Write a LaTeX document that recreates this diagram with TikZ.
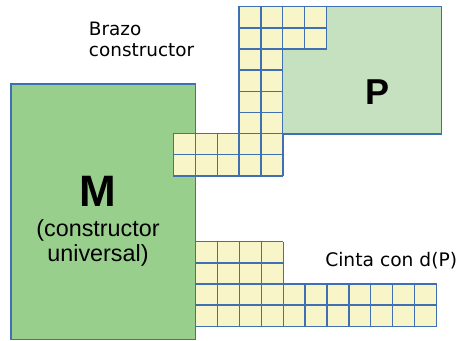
\documentclass[tikz,border=0pt]{standalone}
\usepackage{fontspec}
\setmainfont{DejaVu Sans}
\newfontfamily\arialfont{Liberation Sans}
\usepackage{tikz}
\definecolor{Edge}{HTML}{4070B4}
\definecolor{MachineGreen}{HTML}{99CF8D}
\definecolor{PartGreen}{HTML}{C5E1C0}
\definecolor{Cell}{HTML}{F8F6C9}
\def\cellw{21.9}
\def\cellh{21.15}
\tikzset{
  gridline/.style={draw=Edge,line width=1pt},
  block/.style={draw=Edge,line width=1pt}
}
% block of cells: left, top, columns, rows
\newcommand{\cellblock}[4]{%
  \fill[Cell] (#1,#2) rectangle ++({#3*\cellw},{#4*\cellh});
  \foreach \i in {0,...,#3}{
    \draw[gridline] ({#1+\i*\cellw},#2) -- ++(0,{#4*\cellh});
  }
  \foreach \j in {0,...,#4}{
    \draw[gridline] (#1,{#2+\j*\cellh}) -- ++({#3*\cellw},0);
  }
}

\begin{document}
\begin{tikzpicture}[x=0.75pt,y=-0.75pt]
      \useasboundingbox (0,0) rectangle (457,341);
      % built part and the machine
      \fill[PartGreen] (239,6.7) rectangle (441.7,134);
      \draw[block] (239,6.7) rectangle (441.7,134);
      \fill[MachineGreen] (11,84) rectangle (195.6,339.5);
      \draw[block] (11,84) rectangle (195.6,339.5);

      % arm: head, column, short reach
      \cellblock{239}{6.7}{4}{2}
      \cellblock{239}{49}{2}{4}
      \cellblock{173.4}{133.6}{5}{2}
      % tape
      \cellblock{195.6}{241.7}{4}{2}
      \cellblock{195.6}{284.0}{11}{2}

      \node[font=\arialfont\bfseries\fontsize{33}{36}\selectfont,anchor=base,inner sep=0]
        (mlabel) at (97.5,206.7) {M};
      \node[font=\arialfont\fontsize{17.5}{18.8}\selectfont,align=center,inner sep=0]
        (mtext) at (98,243) {(constructor\\universal)};
      \node[font=\arialfont\bfseries\fontsize{27}{30}\selectfont,anchor=base,inner sep=0]
        (plabel) at (377.5,104.3) {P};
      \node[font=\fontsize{13.8}{15.8}\selectfont,align=left,anchor=north west,inner sep=0]
        (arm) at (88.7,21.7) {Brazo\\constructor};
      \node[font=\fontsize{14}{16}\selectfont,anchor=base west,inner sep=0]
        (tape) at (325,266.7) {Cinta con d(P)};
    \end{tikzpicture}
\end{document}
